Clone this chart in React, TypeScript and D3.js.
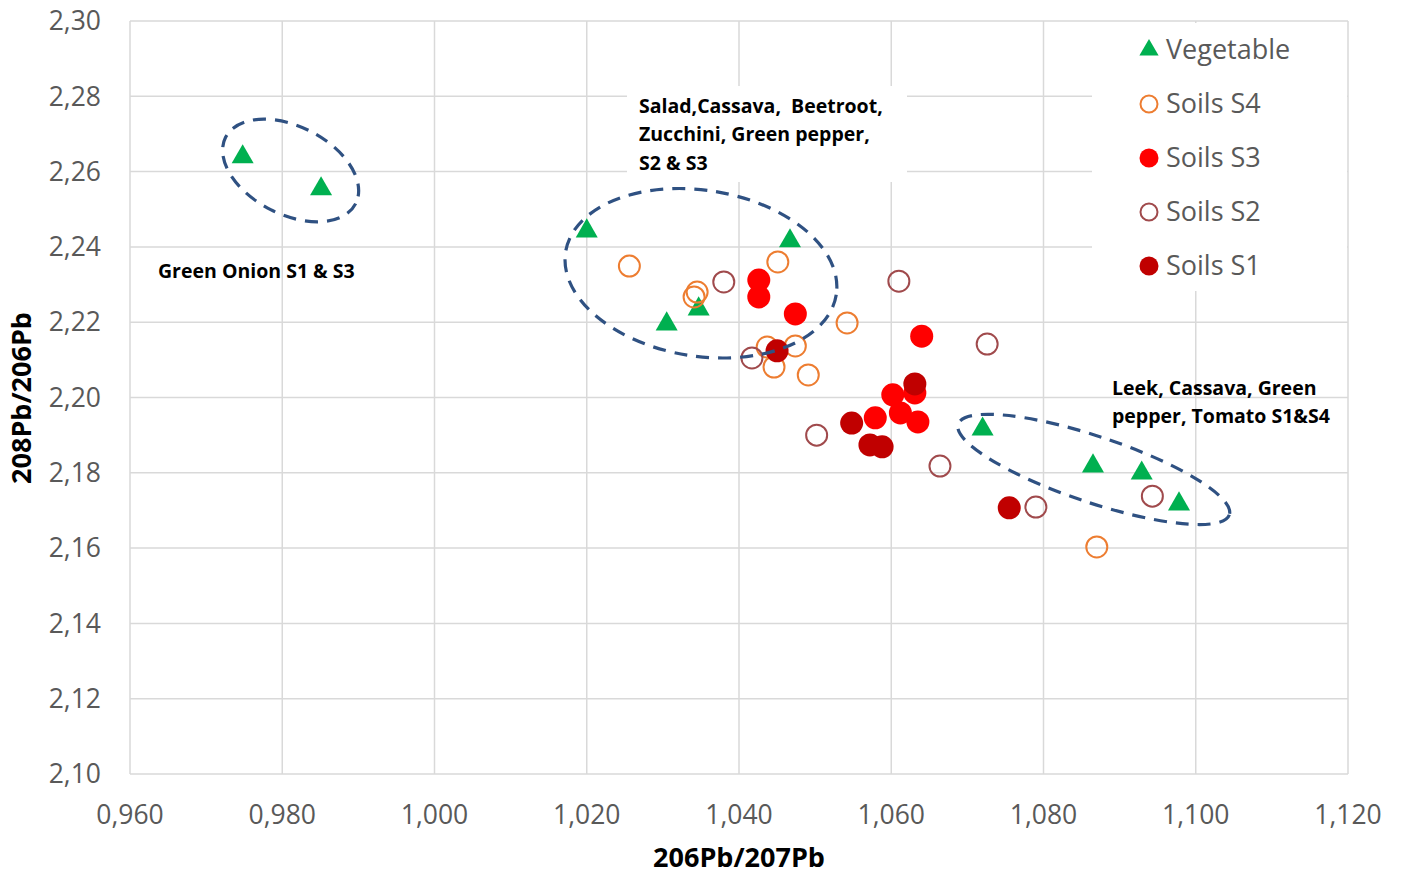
import React from "react";
import * as d3 from "d3";

const xTicks = [0.96, 0.98, 1.0, 1.02, 1.04, 1.06, 1.08, 1.1, 1.12];
const yTicks = [2.1, 2.12, 2.14, 2.16, 2.18, 2.2, 2.22, 2.24, 2.26, 2.28, 2.3];

const vegetable: [number, number][] = [
  [0.9748, 2.2639], [0.9851, 2.2554], [1.02, 2.2442], [1.0467, 2.2416],
  [1.0305, 2.2195], [1.0347, 2.2235], [1.072, 2.1916], [1.0865, 2.1818],
  [1.0929, 2.1799], [1.0978, 2.1717],
];
const soilsS4: [number, number][] = [
  [1.0256, 2.2349], [1.0345, 2.228], [1.0341, 2.2267], [1.0451, 2.236],
  [1.0542, 2.2198], [1.0437, 2.2134], [1.0474, 2.2137], [1.0446, 2.2081],
  [1.0491, 2.206], [1.087, 2.1603],
];
const soilsS3: [number, number][] = [
  [1.0426, 2.2312], [1.0426, 2.2267], [1.0474, 2.2222], [1.064, 2.2163],
  [1.0602, 2.2007], [1.0631, 2.2012], [1.0612, 2.1959], [1.0579, 2.1946],
  [1.0635, 2.1935],
];
const soilsS2: [number, number][] = [
  [1.038, 2.2307], [1.0417, 2.2105], [1.061, 2.2309], [1.0726, 2.2142],
  [1.0502, 2.19], [1.0664, 2.1818], [1.079, 2.1709], [1.0943, 2.1738],
];
const soilsS1: [number, number][] = [
  [1.045, 2.2124], [1.0631, 2.2036], [1.0548, 2.1932], [1.0572, 2.1874],
  [1.0588, 2.1869], [1.0755, 2.1707],
];

// ellipses: center (x,y) in data units, semi-axes in px, rotation deg
const ellipses = [
  { cx: 0.9811, cy: 2.2603, rx: 73, ry: 44, rot: 27 },
  { cx: 1.035, cy: 2.233, rx: 137, ry: 83, rot: 9 },
  { cx: 1.0866, cy: 2.1809, rx: 143, ry: 33, rot: 18.5 },
];

const legendItems = ["Vegetable", "Soils S4", "Soils S3", "Soils S2", "Soils S1"];

const W = 1401, H = 874;
const left = 130, right = 1348, top = 21, bottom = 774;

const x = d3.scaleLinear().domain([0.96, 1.12]).range([left, right]);
const y = d3.scaleLinear().domain([2.1, 2.3]).range([bottom, top]);

const fmtX = (v: number) => d3.format(".3f")(v).replace(".", ",");
const fmtY = (v: number) => d3.format(".2f")(v).replace(".", ",");

const GREEN = "#00B050", ORANGE = "#ED7D31", RED = "#FF0000", S2C = "#A04A4C", S1C = "#C00000";
const ELL = "#2F5182";

const triPath = d3.symbol().type(d3.symbolTriangle).size(210)()!;
const R = 10.5;

export default function App() {
  const font = "'Open Sans', 'Noto Sans', sans-serif";
  return (
    <div style={{ position: "absolute", left: 0, top: 0 }}>
      <svg width={W} height={H} style={{ display: "block", background: "#fff" }}>
        <rect width={W} height={H} fill="#fff" />
        {/* grid */}
        {xTicks.map((t) => (
          <line key={"gx" + t} x1={x(t)} x2={x(t)} y1={top} y2={bottom} stroke="#D9D9D9" strokeWidth={1.5} />
        ))}
        {yTicks.map((t) => (
          <line key={"gy" + t} x1={left} x2={right} y1={y(t)} y2={y(t)} stroke="#D9D9D9" strokeWidth={1.5} />
        ))}
        {/* tick labels */}
        {yTicks.map((t) => (
          <text key={"ty" + t} x={101} y={y(t)} dy="0.35em" textAnchor="end" fontFamily={font} fontSize={26.5} fill="#595959">
            {fmtY(t)}
          </text>
        ))}
        {xTicks.map((t) => (
          <text key={"tx" + t} x={x(t)} y={815} dy="0.35em" textAnchor="middle" fontFamily={font} fontSize={26.5} fill="#595959">
            {fmtX(t)}
          </text>
        ))}
        {/* axis titles */}
        <text x={739} y={858} dy="0.35em" textAnchor="middle" fontFamily={font} fontSize={27} fontWeight="bold" fill="#000">
          206Pb/207Pb
        </text>
        <text transform="translate(22,398) rotate(-90)" dy="0.35em" textAnchor="middle" fontFamily={font} fontSize={27} fontWeight="bold" fill="#000">
          208Pb/206Pb
        </text>

        {/* legend background */}
        <rect x={1092} y={23} width={255} height={268} fill="#fff" />
        {/* salad label background */}
        <rect x={627} y={86} width={280} height={96} fill="#fff" />

        {/* series */}
        {vegetable.map((d, i) => (
          <path key={"v" + i} d={triPath} transform={`translate(${x(d[0])},${y(d[1])})`} fill={GREEN} />
        ))}
        {soilsS4.map((d, i) => (
          <circle key={"s4" + i} cx={x(d[0])} cy={y(d[1])} r={R} fill="#fff" fillOpacity={0} stroke={ORANGE} strokeWidth={2} />
        ))}
        {soilsS3.map((d, i) => (
          <circle key={"s3" + i} cx={x(d[0])} cy={y(d[1])} r={R + 1} fill={RED} />
        ))}
        {soilsS2.map((d, i) => (
          <circle key={"s2" + i} cx={x(d[0])} cy={y(d[1])} r={R} fill="#fff" fillOpacity={0} stroke={S2C} strokeWidth={2} />
        ))}
        {soilsS1.map((d, i) => (
          <circle key={"s1" + i} cx={x(d[0])} cy={y(d[1])} r={R + 1} fill={S1C} />
        ))}

        {/* ellipses */}
        {ellipses.map((e, i) => (
          <ellipse key={"e" + i} cx={0} cy={0} rx={e.rx} ry={e.ry}
            transform={`translate(${x(e.cx)},${y(e.cy)}) rotate(${e.rot})`}
            fill="none" stroke={ELL} strokeWidth={3.2} strokeDasharray="13 9" />
        ))}

        {/* annotations */}
        <g fontFamily={font} fontSize={19.5} fontWeight="bold" fill="#000">
          <text x={158} y={271} dy="0.35em">Green Onion S1 &amp; S3</text>
          <text x={639} y={106} dy="0.35em" style={{ whiteSpace: "pre" }}>{"Salad,Cassava,  Beetroot,"}</text>
          <text x={639} y={134} dy="0.35em">Zucchini, Green pepper,</text>
          <text x={639} y={163} dy="0.35em">S2 &amp; S3</text>
          <text x={1112} y={388} dy="0.35em">Leek, Cassava, Green</text>
          <text x={1112} y={416} dy="0.35em">pepper, Tomato S1&amp;S4</text>
        </g>

        {/* legend */}
        {legendItems.map((name, i) => {
          const ly = 50 + i * 54;
          const mx = 1149;
          let marker;
          if (i === 0) marker = <path d={d3.symbol().type(d3.symbolTriangle).size(160)()!} transform={`translate(${mx},${ly})`} fill={GREEN} />;
          else if (i === 1) marker = <circle cx={mx} cy={ly} r={8.5} fill="none" stroke={ORANGE} strokeWidth={2} />;
          else if (i === 2) marker = <circle cx={mx} cy={ly} r={9.5} fill={RED} />;
          else if (i === 3) marker = <circle cx={mx} cy={ly} r={8.5} fill="none" stroke={S2C} strokeWidth={2} />;
          else marker = <circle cx={mx} cy={ly} r={9.5} fill={S1C} />;
          return (
            <g key={name}>
              {marker}
              <text x={1166} y={ly} dy="0.35em" fontFamily={font} fontSize={27} fill="#595959">{name}</text>
            </g>
          );
        })}
      </svg>
    </div>
  );
}
